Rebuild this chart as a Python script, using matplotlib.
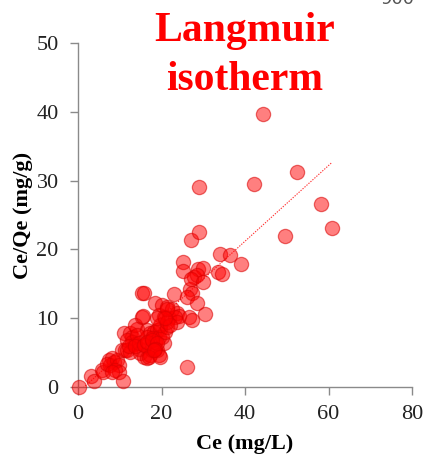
import matplotlib

matplotlib.use("Agg")
import matplotlib.pyplot as plt
import numpy as np


# Ce (mg/L) and Ce/Qe (mg/g) for each sample
ce = [
    0.3, 3.0, 3.8, 5.7, 6.1, 7.3, 8.1, 8.5, 7.7, 6.9,
    9.3, 9.7, 8.9, 9.7, 8.1, 10.7, 10.5, 11.3, 10.9, 12.5,
    12.9, 11.7, 12.9, 13.7, 14.1, 13.7, 15.3, 11.7, 12.5, 12.1,
    14.5, 14.9, 15.7, 16.5, 17.3, 17.7, 16.5, 17.3, 18.1, 18.9,
    19.7, 16.5, 17.7, 18.5, 19.3, 16.1, 18.9, 19.3, 20.5, 20.1,
    20.9, 18.5, 20.1, 21.3, 19.3, 20.5, 21.7, 19.7, 21.3, 15.3,
    15.7, 22.5, 23.7, 24.1, 23.3, 23.7, 26.5, 27.3, 30.5, 15.5,
    18.9, 21.3, 22.1, 14.1, 14.5, 13.7, 15.7, 16.5, 17.7, 18.9,
    18.5, 16.9, 19.7, 18.1, 26.2, 22.9, 26.9, 27.3, 26.2, 28.5,
    25.1, 25.1, 28.8, 30.0, 33.6, 34.5, 27.8, 28.5, 27.1, 30.0,
    34.1, 36.3, 39.1, 27.0, 28.9, 29.0, 42.2, 44.4, 52.4, 58.2,
    60.8, 49.6, 21.3, 20.9,
]
ce_qe = [
    0.0, 1.6, 0.9, 2.5, 2.2, 3.9, 4.2, 3.7, 3.2, 3.4,
    3.9, 3.2, 2.5, 2.2, 2.2, 0.9, 5.4, 5.4, 7.9, 7.8,
    7.3, 6.8, 6.6, 6.3, 8.5, 9.0, 10.2, 5.4, 5.1, 5.9,
    5.6, 4.9, 4.4, 4.2, 4.7, 5.4, 8.3, 7.8, 8.0, 8.3,
    8.5, 7.3, 7.1, 6.6, 7.3, 6.1, 5.4, 4.7, 6.4, 7.3,
    8.0, 12.2, 11.9, 11.7, 10.5, 10.2, 10.0, 9.0, 8.8, 13.7,
    13.7, 11.4, 10.7, 10.3, 10.2, 9.5, 10.2, 9.7, 10.6, 10.3,
    10.0, 9.5, 9.0, 7.6, 6.4, 5.9, 6.1, 6.6, 6.8, 6.4,
    5.6, 4.4, 4.4, 5.4, 2.9, 13.5, 14.2, 13.6, 13.1, 12.2,
    18.2, 16.9, 17.1, 17.3, 16.7, 16.4, 16.0, 16.3, 15.7, 15.2,
    19.3, 19.2, 17.9, 21.3, 22.5, 29.0, 29.5, 39.7, 31.3, 26.6,
    23.1, 21.9, 11.4, 10.1,
]

# linear trend line Ce/Qe = SLOPE * Ce + INTERCEPT
SLOPE = 0.55
INTERCEPT = -0.8

X_TICKS = [0, 20, 40, 60, 80]
Y_TICKS = [0, 10, 20, 30, 40, 50]

SERIF = ["Liberation Serif", "DejaVu Serif"]
AXIS_GREY = "#8a8a8a"


def main() -> None:
    fig = plt.figure(figsize=(4.24, 4.57), dpi=100)
    ax = fig.add_axes([0.184, 0.153, 0.788, 0.753])

    ax.scatter(
        ce,
        ce_qe,
        s=105,
        facecolor=(1.0, 0.0, 0.0, 0.5),
        edgecolor=(0.85, 0.0, 0.0, 0.55),
        linewidth=0.9,
        clip_on=False,
        zorder=3,
    )

    fit_x = np.array([min(ce), max(ce)])
    ax.plot(
        fit_x,
        SLOPE * fit_x + INTERCEPT,
        color="red",
        linestyle=(0, (1.2, 1.2)),
        linewidth=0.8,
        alpha=0.8,
        zorder=2,
    )

    ax.set_xlim(0, 80)
    ax.set_ylim(0, 50)
    ax.set_xticks(X_TICKS)
    ax.set_yticks(Y_TICKS)

    for spine in ("top", "right"):
        ax.spines[spine].set_visible(False)
    for spine in ("left", "bottom"):
        ax.spines[spine].set_color(AXIS_GREY)
        ax.spines[spine].set_linewidth(1.0)

    ax.tick_params(
        direction="out",
        length=6,
        width=1.0,
        color=AXIS_GREY,
        labelcolor="#222222",
        labelsize=16,
    )
    ax.tick_params(axis="x", pad=7)
    ax.tick_params(axis="y", pad=8)
    for label in ax.get_xticklabels() + ax.get_yticklabels():
        label.set_family(SERIF)

    ax.set_xlabel("Ce (mg/L)", fontsize=16, weight="bold", family=SERIF)
    ax.set_ylabel("Ce/Qe (mg/g)", fontsize=16, weight="bold", family=SERIF)
    ax.xaxis.set_label_coords(0.5, -0.135)
    ax.yaxis.set_label_coords(-0.135, 0.5)

    fig.text(
        0.577,
        0.973,
        "Langmuir\nisotherm",
        ha="center",
        va="top",
        color="red",
        fontsize=30,
        weight="bold",
        family=SERIF,
        linespacing=1.36,
    )

    fig.text(0.938, 0.992, "900", ha="center", va="baseline",
             color="#555555", fontsize=13)

    fig.savefig("out.png", dpi=100)
    plt.close(fig)


if __name__ == "__main__":
    main()
